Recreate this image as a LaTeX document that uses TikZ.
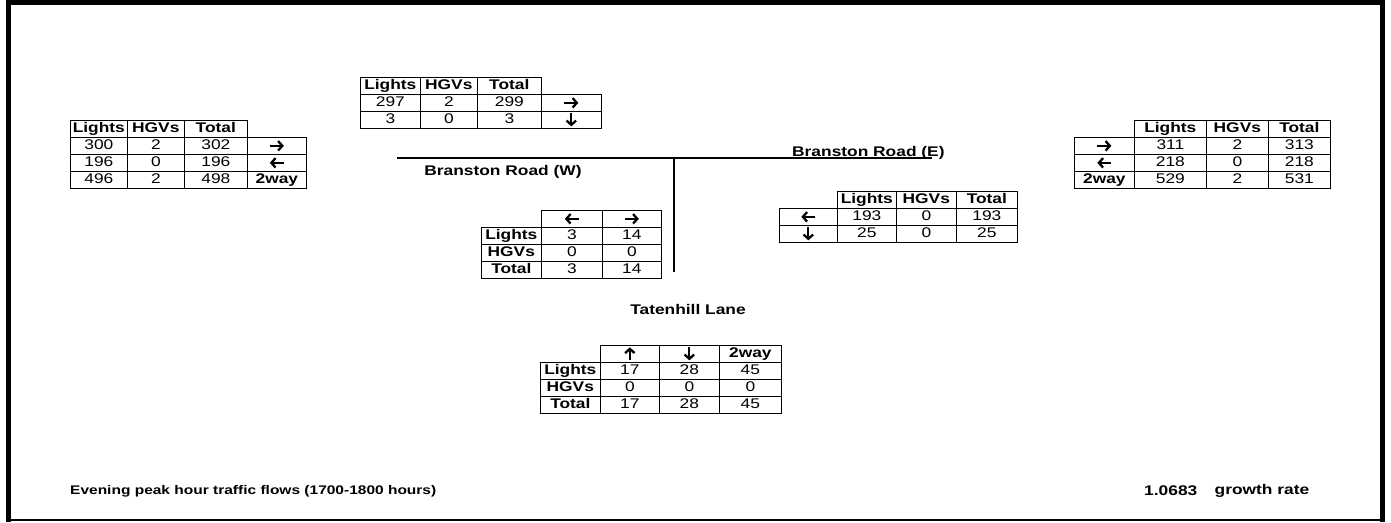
\documentclass[tikz,border=0pt]{standalone}
\usepackage{fontspec}
\setmainfont{Liberation Sans}[FakeStretch=1.24]
\usetikzlibrary{matrix,positioning,arrows.meta}

\newcommand{\tabfont}{\fontsize{14}{16}\selectfont}

\tikzset{
  flowtab/.style={matrix of nodes, anchor=north west,
    column sep=-1.6pt, row sep=-1.6pt,
    nodes={draw, line width=1.6pt, anchor=center, minimum height=17pt,
      text height=10.2pt, text depth=2.9pt, inner sep=0pt, font=\tabfont}},
  hd/.style={font=\tabfont\bfseries},
  road/.style={line width=2pt},
  lbl/.style={font=\tabfont\bfseries, inner sep=0pt},
  flowarr/.style={line width=2.3pt, -{Straight Barb[length=4.2pt, width=9.5pt]}},
}

\begin{document}
\begin{tikzpicture}[x=1pt,y=-1pt]
\useasboundingbox (0,0) rectangle (1391,522);

% frame
\draw[line width=5pt] (8.5,522) -- (8.5,2.5) -- (1382.5,2.5) -- (1382.5,522);
\draw[line width=1.5pt] (6,520) -- (1385,520);

% roads
\coordinate (wend) at (397,158);
\coordinate (eend) at (932,158);
\coordinate (junc) at (674,158);
\coordinate (send) at (674,272);
\draw[road] (wend) -- (eend);
\draw[road] (junc) -- (send);

% west approach
\matrix (westT) [flowtab,
  column 1/.style={nodes={minimum width=57pt}},
  column 2/.style={nodes={minimum width=57pt}},
  column 3/.style={nodes={minimum width=63pt}},
  column 4/.style={nodes={minimum width=59pt}}] at (66,116) {
  |[hd]| Lights & |[hd]| HGVs & |[hd]| Total & \\
  300 & 2 & 302 & \mbox{} \\
  196 & 0 & 196 & \mbox{} \\
  496 & 2 & 498 & |[hd]| 2way \\
};

% west arm at junction
\matrix (westJ) [flowtab,
  column 1/.style={nodes={minimum width=60pt}},
  column 2/.style={nodes={minimum width=57pt}},
  column 3/.style={nodes={minimum width=64pt}},
  column 4/.style={nodes={minimum width=60pt}}] at (356,73) {
  |[hd]| Lights & |[hd]| HGVs & |[hd]| Total & \\
  297 & 2 & 299 & \mbox{} \\
  3 & 0 & 3 & \mbox{} \\
};

% Tatenhill Lane at junction
\matrix (southJ) [flowtab,
  column 1/.style={nodes={minimum width=60pt}},
  column 2/.style={nodes={minimum width=61pt}},
  column 3/.style={nodes={minimum width=59pt}}] at (477,206) {
  & \mbox{} & \mbox{} \\
  |[hd]| Lights & 3 & 14 \\
  |[hd]| HGVs & 0 & 0 \\
  |[hd]| Total & 3 & 14 \\
};

% Tatenhill Lane approach
\matrix (southT) [flowtab,
  column 1/.style={nodes={minimum width=60pt}},
  column 2/.style={nodes={minimum width=59pt}},
  column 3/.style={nodes={minimum width=60pt}},
  column 4/.style={nodes={minimum width=62pt}}] at (536,341) {
  & \mbox{} & \mbox{} & |[hd]| 2way \\
  |[hd]| Lights & 17 & 28 & 45 \\
  |[hd]| HGVs & 0 & 0 & 0 \\
  |[hd]| Total & 17 & 28 & 45 \\
};

% east arm at junction
\matrix (eastJ) [flowtab,
  column 1/.style={nodes={minimum width=58pt}},
  column 2/.style={nodes={minimum width=59pt}},
  column 3/.style={nodes={minimum width=60pt}},
  column 4/.style={nodes={minimum width=61pt}}] at (775,187) {
  & |[hd]| Lights & |[hd]| HGVs & |[hd]| Total \\
  \mbox{} & 193 & 0 & 193 \\
  \mbox{} & 25 & 0 & 25 \\
};

% east approach
\matrix (eastT) [flowtab,
  column 1/.style={nodes={minimum width=60pt}},
  column 2/.style={nodes={minimum width=72pt}},
  column 3/.style={nodes={minimum width=62pt}},
  column 4/.style={nodes={minimum width=62pt}}] at (1070,116) {
  & |[hd]| Lights & |[hd]| HGVs & |[hd]| Total \\
  \mbox{} & 311 & 2 & 313 \\
  \mbox{} & 218 & 0 & 218 \\
  |[hd]| 2way & 529 & 2 & 531 \\
};

% direction arrows
\foreach \c in {westT-2-4, westJ-2-4, southJ-1-3, eastT-2-1}
  \draw[flowarr] ([xshift=-7pt]\c.center) -- ([xshift=7pt]\c.center);
\foreach \c in {westT-3-4, southJ-1-2, eastJ-2-1, eastT-3-1}
  \draw[flowarr] ([xshift=7pt]\c.center) -- ([xshift=-7pt]\c.center);
\foreach \c in {westJ-3-4, southT-1-3, eastJ-3-1}
  \draw[flowarr] ([yshift=6.5pt]\c.center) -- ([yshift=-6.5pt]\c.center);
\foreach \c in {southT-1-2}
  \draw[flowarr] ([yshift=-6.5pt]\c.center) -- ([yshift=6.5pt]\c.center);

% road names
\node[lbl] (brw) at (503,172) {Branston Road (W)};
\node[lbl, anchor=base west] (bre) at (792,156) {Branston Road (E)};
\node[lbl] (tat) at (688,309) {Tatenhill Lane};

% notes
\node[lbl, anchor=west, font=\fontsize{12.5}{15}\selectfont\bfseries] (title) at (70,491) {Evening peak hour traffic flows (1700-1800 hours)};
\node[lbl, anchor=west] (growth) at (1144,491) {1.0683};
\node[lbl, right=17pt of growth] (growthlbl) {growth rate};

\end{tikzpicture}
\end{document}
